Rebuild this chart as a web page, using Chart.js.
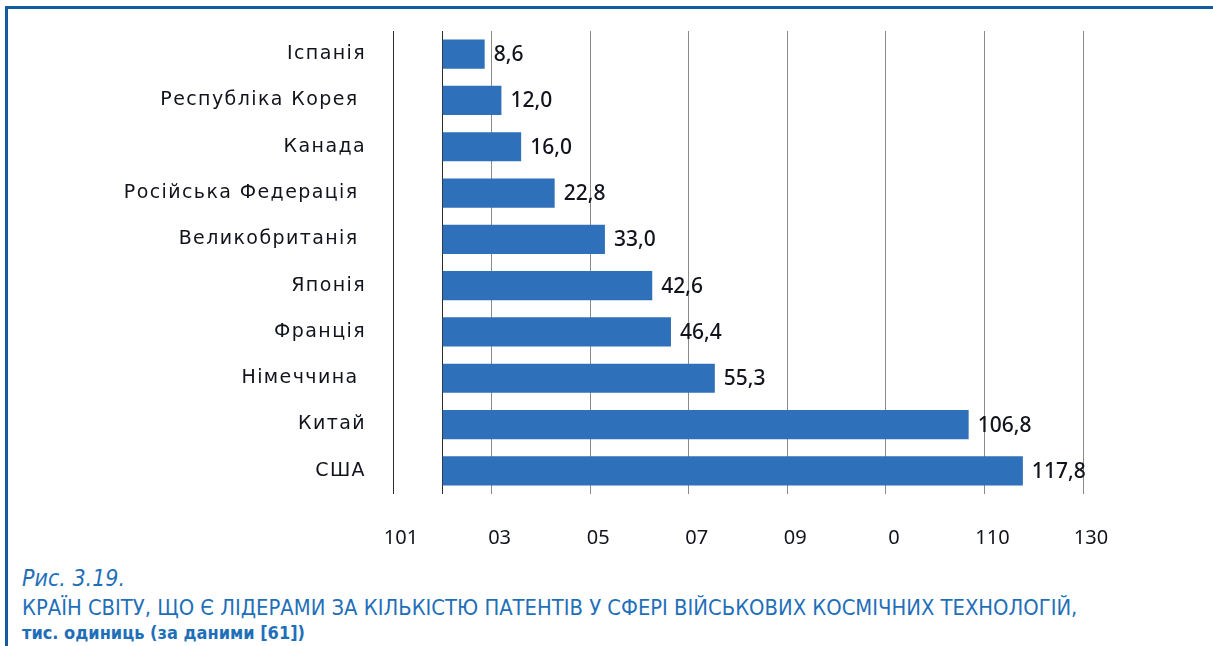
<!DOCTYPE html>
<html lang="uk">
<head>
    <meta charset="UTF-8">
    <title>Патенти у сфері військових космічних технологій</title>
    <script src="https://cdn.jsdelivr.net/npm/chart.js"></script>
    <style>
        body { margin: 0; background: white; width: 1213px; height: 646px; overflow: hidden; position: relative; }
        .frame { position: absolute; left: 5px; top: 6px; right: 0; bottom: 0; border-top: 3px solid #145c9e; border-left: 3px solid #145c9e; }
        .chart-box { position: absolute; left: 0; top: 0; width: 1213px; height: 565px; }
        .cap { position: absolute; left: 22px; color: #1f6fb8; white-space: nowrap; line-height: 1; font-family: "Liberation Sans Narrow", "DejaVu Sans Condensed", sans-serif; }
        .cap1 { top: 567px; font-size: 23px; font-style: italic; }
        .cap2 { top: 597px; font-size: 21.8px; }
        .cap3 { top: 624px; font-size: 18px; font-weight: bold; }
    </style>
</head>
<body>
<div class="frame"></div>
<div class="chart-box"><canvas id="chart"></canvas></div>
<div class="cap cap1">Рис. 3.19.</div>
<div class="cap cap2">КРАЇН СВІТУ, ЩО Є ЛІДЕРАМИ ЗА КІЛЬКІСТЮ ПАТЕНТІВ У СФЕРІ ВІЙСЬКОВИХ КОСМІЧНИХ ТЕХНОЛОГІЙ,</div>
<div class="cap cap3">тис. одиниць (за даними [61])</div>
<script>
    // країни і значення (тис. одиниць)
    const categories = ['Іспанія', 'Республіка Корея ', 'Канада', 'Російська Федерація ', 'Великобританія ',
        'Японія', 'Франція', 'Німеччина ', 'Китай', 'США'];
    const values = [8.6, 12.0, 16.0, 22.8, 33.0, 42.6, 46.4, 55.3, 106.8, 117.8];
    // підписи осі X так, як вони стоять на малюнку
    const tickValues = [-10, 10, 30, 50, 70, 90, 110, 130];
    const tickLabels = ['101', '03', '05', '07', '09', '0', '110', '130'];

    const barColor = '#2e70b9';
    const textColor = '#11141c';

    // підписи значень праворуч від смуг
    const valueLabels = {
        id: 'valueLabels',
        afterDatasetsDraw(chart) {
            const ctx = chart.ctx;
            const meta = chart.getDatasetMeta(0);
            ctx.save();
            ctx.font = '500 21px "Noto Sans"';
            ctx.fillStyle = textColor;
            ctx.textAlign = 'left';
            ctx.textBaseline = 'middle';
            meta.data.forEach((bar, i) => {
                ctx.fillText(values[i].toFixed(1).replace('.', ','), bar.x + 9, bar.y + 1);
            });
            ctx.restore();
        }
    };

    // розріджені літери в назвах країн
    const spacedLabels = {
        id: 'spacedLabels',
        beforeDraw(chart) {
            const y = chart.scales.y;
            if (!y || y._spaced) return;
            const orig = y.drawLabels;
            y.drawLabels = function(area) {
                this.ctx.save();
                this.ctx.letterSpacing = '1.4px';
                orig.call(this, area);
                this.ctx.restore();
            };
            y._spaced = true;
        }
    };

    const ctx = document.getElementById('chart').getContext('2d');
    new Chart(ctx, {
        type: 'bar',
        data: {
            labels: categories,
            datasets: [{
                data: values,
                backgroundColor: barColor,
                borderWidth: 0,
                barPercentage: 0.63,
                categoryPercentage: 1.0
            }]
        },
        options: {
            indexAxis: 'y',
            responsive: true,
            maintainAspectRatio: false,
            animation: false,
            layout: { padding: { top: 31, right: 130, bottom: 0, left: 0 } },
            plugins: {
                legend: { display: false },
                tooltip: { enabled: false }
            },
            scales: {
                x: {
                    type: 'linear',
                    min: -10,
                    max: 130,
                    afterBuildTicks: function(scale) {
                        scale.ticks = tickValues.concat([0]).map(v => ({ value: v }));
                    },
                    afterFit: function(scale) {
                        scale.height = 71;
                        scale.paddingLeft = 0;
                        scale.paddingRight = 0;
                    },
                    border: { display: false },
                    grid: {
                        drawTicks: false,
                        lineWidth: 1,
                        color: function(c) {
                            const v = c.tick ? c.tick.value : null;
                            return (v === 0 || v === -10) ? '#2c2c2c' : '#8a8a8a';
                        }
                    },
                    ticks: {
                        autoSkip: false,
                        maxRotation: 0,
                        padding: 32,
                        labelOffset: 8,
                        color: textColor,
                        font: { family: 'Noto Sans', size: 20 },
                        callback: function(value) {
                            const i = tickValues.indexOf(value);
                            return i >= 0 ? tickLabels[i] : '';
                        }
                    }
                },
                y: {
                    afterFit: function(scale) {
                        scale.width = 393;
                        scale.paddingTop = 0;
                        scale.paddingBottom = 0;
                    },
                    border: { display: false },
                    grid: { display: false, drawTicks: false },
                    ticks: {
                        padding: 27,
                        color: textColor,
                        font: { family: 'DejaVu Sans', size: 19 }
                    }
                }
            }
        },
        plugins: [valueLabels, spacedLabels]
    });
</script>
</body>
</html>
